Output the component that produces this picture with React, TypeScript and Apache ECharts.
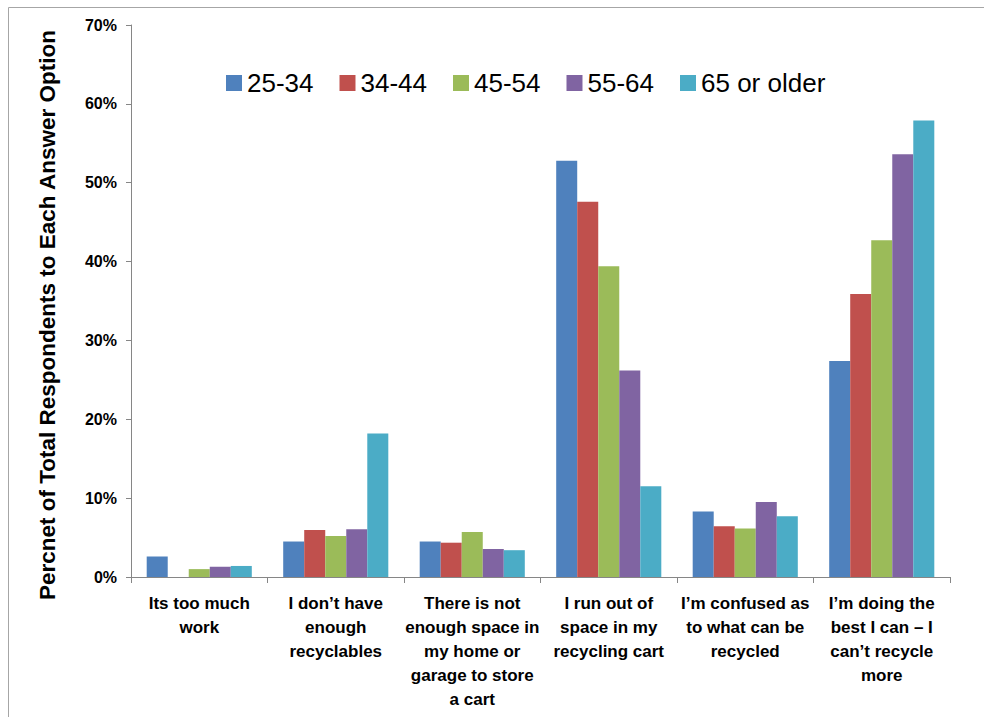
import React, { useEffect, useRef } from "react";
import * as echarts from "echarts";

const categories = [
  "Its too much\nwork",
  "I don\u2019t have\nenough\nrecyclables",
  "There is not\nenough space in\nmy home or\ngarage to store\na cart",
  "I run out of\nspace in my\nrecycling cart",
  "I\u2019m confused as\nto what can be\nrecycled",
  "I\u2019m doing the\nbest I can \u2013 I\ncan\u2019t recycle\nmore",
];
const seriesNames = ["25-34", "34-44", "45-54", "55-64", "65 or older"];
const age25_34 = [2.6, 4.5, 4.5, 52.8, 8.3, 27.4];
const age34_44 = [0, 5.95, 4.35, 47.6, 6.45, 35.9];
const age45_54 = [1.0, 5.2, 5.7, 39.4, 6.15, 42.7];
const age55_64 = [1.3, 6.05, 3.55, 26.2, 9.5, 53.6];
const age65plus = [1.4, 18.2, 3.4, 11.5, 7.7, 57.9];
const yTicks = [0, 10, 20, 30, 40, 50, 60, 70];
const colors = ["#4F81BD", "#C0504D", "#9BBB59", "#8064A2", "#4BACC6"];
const yTitle = "Percnet of Total Respondents to Each Answer Option";

const FONT = "'Liberation Sans', Arial, sans-serif";

export default function App() {
  const ref = useRef<HTMLDivElement>(null);
  useEffect(() => {
    if (!ref.current) return;
    const chart = echarts.init(ref.current, null, { renderer: "svg" });
    const data = [age25_34, age34_44, age45_54, age55_64, age65plus];
    chart.setOption({
      animation: false,
      backgroundColor: "#ffffff",
      textStyle: { fontFamily: FONT },
      grid: { left: 131, right: 34, top: 25, bottom: 140, containLabel: false },
      legend: {
        data: seriesNames,
        left: 221,
        top: 65,
        itemWidth: 16,
        itemHeight: 16,
        itemGap: 26,
        icon: "rect",
        textStyle: { fontSize: 26, color: "#000", fontFamily: FONT },
      },
      xAxis: {
        type: "category",
        data: categories,
        axisLine: { lineStyle: { color: "#868686", width: 1 } },
        axisTick: { show: true, length: 6, lineStyle: { color: "#868686" } },
        axisLabel: {
          interval: 0,
          margin: 14,
          color: "#000",
          fontWeight: "bold",
          fontSize: 17,
          lineHeight: 24,
          fontFamily: FONT,
        },
        splitLine: { show: false },
      },
      yAxis: {
        type: "value",
        min: 0,
        max: 70,
        interval: 10,
        axisLine: { show: true, lineStyle: { color: "#868686", width: 1 } },
        axisTick: { show: true, length: 5, lineStyle: { color: "#868686" } },
        axisLabel: {
          formatter: (v: number) => (yTicks.includes(v) ? `${v}%` : ""),
          margin: 14,
          color: "#000",
          fontWeight: "bold",
          fontSize: 16,
          fontFamily: FONT,
        },
        splitLine: { show: false },
      },
      graphic: [
        {
          type: "rect",
          shape: { x: 8.5, y: 7.5, width: 1000, height: 730 },
          style: { fill: "none", stroke: "#A6A6A6", lineWidth: 1 },
          z: -1,
          silent: true,
        },
        {
          type: "text",
          x: 47,
          y: 315,
          rotation: Math.PI / 2,
          style: {
            text: yTitle,
            fontSize: 22.5,
            fontWeight: "bold",
            fontFamily: FONT,
            fill: "#000",
            align: "center",
            verticalAlign: "middle",
          },
        },
      ],
      series: seriesNames.map((name, i) => ({
        name,
        type: "bar",
        data: data[i],
        barGap: "0%",
        barCategoryGap: "23%",
        itemStyle: { color: colors[i] },
      })),
    });
    return () => chart.dispose();
  }, []);
  return (
    <div
      ref={ref}
      style={{ position: "fixed", left: 0, top: 0, width: 984, height: 717 }}
    />
  );
}
